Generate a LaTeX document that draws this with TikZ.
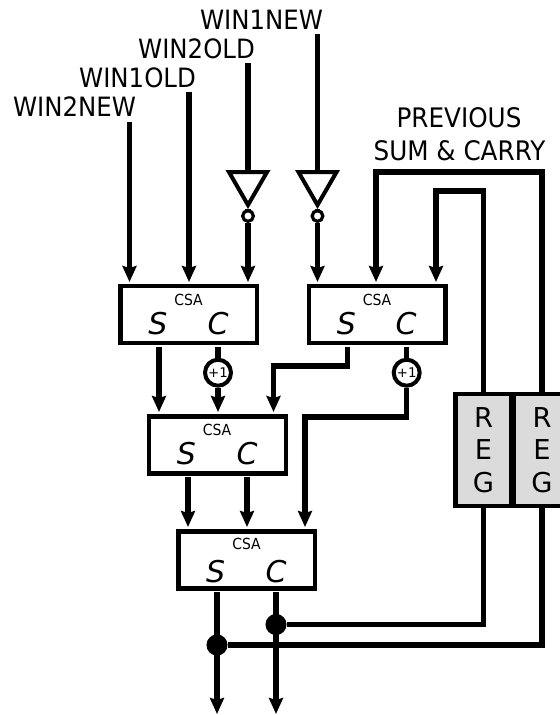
\documentclass[tikz,border=0pt]{standalone}
\usepackage{fontspec}
\setmainfont{DejaVu Sans}
\usetikzlibrary{arrows.meta,shapes.geometric}
\newcommand{\tall}[1]{\scalebox{1}[1.09]{#1}}
\tikzset{
    wire/.style={line width=4pt},
    arr/.style={wire,-{Stealth[length=12pt,width=10.5pt,inset=1.5pt]}},
    csabox/.style={draw,line width=3.4pt,minimum width=102.5pt,minimum height=42.8pt,inner sep=0pt},
    csaname/.style={font=\fontsize{10.5}{12}\selectfont,inner sep=0pt},
    sumcarry/.style={font=\fontsize{22.5}{24}\selectfont\itshape,inner sep=0pt},
    incr/.style={circle,draw,line width=3pt,fill=white,minimum size=19.5pt,inner sep=0pt,font=\fontsize{10}{10}\selectfont},
    inv/.style={regular polygon,regular polygon sides=3,shape border rotate=180,draw,line width=3pt,minimum size=33pt,inner sep=0pt},
    bubble/.style={circle,draw,line width=2.4pt,fill=white,minimum size=8pt,inner sep=0pt},
    reg/.style={draw,line width=3.4pt,fill=black!14,minimum width=42pt,minimum height=84pt,inner sep=0pt,align=center,font=\fontsize{20.5}{24.4}\selectfont},
    dot/.style={circle,fill=black,minimum size=15.8pt,inner sep=0pt},
    lbl/.style={font=\fontsize{18.3}{22}\selectfont,inner sep=0pt},
}
\begin{document}
\begin{tikzpicture}[x=0.75pt,y=-0.75pt]
    \useasboundingbox (0,0) rectangle (560,715);
    % inputs
    \node[lbl](win1new) at (261.5,19.5) {\tall{WIN1NEW}};
    \node[lbl](win2old) at (196.5,48.5) {\tall{WIN2OLD}};
    \node[lbl](win1old) at (137.5,78) {\tall{WIN1OLD}};
    \node[lbl](win2new) at (74.5,107) {\tall{WIN2NEW}};
    \node[lbl,font=\fontsize{18.5}{24}\selectfont](prev) at (459,118) {\tall{PREVIOUS}};
    \node[lbl,font=\fontsize{18.5}{24}\selectfont](sumc) at (459.5,151) {\tall{SUM \& CARRY}};
    \coordinate(in1) at (317.5,34);
    \coordinate(in2) at (248,63);
    \coordinate(in3) at (189,92);
    \coordinate(in4) at (129.5,122);
    % adders
    \node[csabox](csaa) at (188.7,314.5) {};
    \node[csabox](csab) at (377.2,314.5) {};
    \node[csabox](csac) at (217.5,445) {};
    \node[csabox](csad) at (246.8,560) {};
    \node[csaname](csaat) at (188.5,300) {\tall{CSA}};
    \node[csaname](csabt) at (377,300) {\tall{CSA}};
    \node[csaname](csact) at (217,430) {\tall{CSA}};
    \node[csaname](csadt) at (246.5,544) {\tall{CSA}};
    \node[sumcarry](sa) at (158,324) {S};
    \node[sumcarry](ca) at (218,324) {C};
    \node[sumcarry](sb) at (346.5,324) {S};
    \node[sumcarry](cb) at (406,324) {C};
    \node[sumcarry](sc) at (186.5,454) {S};
    \node[sumcarry](cc) at (247,454) {C};
    \node[sumcarry](sd) at (215.7,571.5) {S};
    \node[sumcarry](cd) at (276,571.5) {C};
    % inverters
    \node[inv](inva) at (248,183) {};
    \node[inv](invb) at (317.5,183) {};
    \node[bubble](bubblea) at (248,216) {};
    \node[bubble](bubbleb) at (317.5,216) {};
    \draw[wire] (in2) -- (inva.north);
    \draw[wire] (in1) -- (invb.north);
    \draw[wire] (inva.corner 1) -- (bubblea);
    \draw[wire] (invb.corner 1) -- (bubbleb);
    % registers
    \node[reg](rega) at (483.5,450) {R\\E\\G};
    \node[reg](regb) at (542,450) {R\\E\\G};
    % increments
    \node[incr](inca) at (218,372.7) {+1};
    \node[incr](incb) at (406.7,372.7) {+1};
    % junctions
    \node[dot](dotc) at (276,624.5) {};
    \node[dot](dots) at (217,645) {};
    % tips on the adders
    \coordinate(aa) at (129.5,282);
    \coordinate(ab) at (189,282);
    \coordinate(ac) at (248,282);
    \coordinate(ba) at (317.5,282);
    \coordinate(bb) at (376,282);
    \coordinate(bc) at (436,282);
    \coordinate(ca1) at (159,412);
    \coordinate(cb1) at (218,412);
    \coordinate(cc1) at (273.5,412);
    \coordinate(da) at (188,527);
    \coordinate(db) at (247,527);
    \coordinate(dc) at (305,527);
    \coordinate(outs) at (217,714);
    \coordinate(outc) at (276,714);
    \coordinate(sao) at (159,347);
    \coordinate(cao) at (218,347);
    \coordinate(sbo) at (347.5,347);
    \coordinate(cbo) at (406.7,347);
    \coordinate(sco) at (188,477);
    \coordinate(cco) at (247,477);
    \coordinate(sdo) at (217,592);
    \coordinate(cdo) at (276,592);
    \draw[arr] (in4) -- (aa);
    \draw[arr] (in3) -- (ab);
    \draw[arr] (bubblea) -- (ac);
    \draw[arr] (bubbleb) -- (ba);
    \draw[arr] (regb.north) |- (376,172) -- (bb);
    \draw[arr] (rega.north) |- (436,191) -- (bc);
    \draw[arr] (sao) -- (ca1);
    \draw[wire] (cao) -- (inca);
    \draw[arr] (inca) -- (cb1);
    \draw[arr] (sbo) |- (273.5,366) -- (cc1);
    \draw[wire] (cbo) -- (incb);
    \draw[arr] (incb) |- (305,417) -- (dc);
    \draw[arr] (sco) -- (da);
    \draw[arr] (cco) -- (db);
    \draw[arr] (sdo) -- (outs);
    \draw[arr] (cdo) -- (outc);
    \draw[wire] (dotc) -| (rega.south);
    \draw[wire] (dots) -| (regb.south);
\end{tikzpicture}
\end{document}
